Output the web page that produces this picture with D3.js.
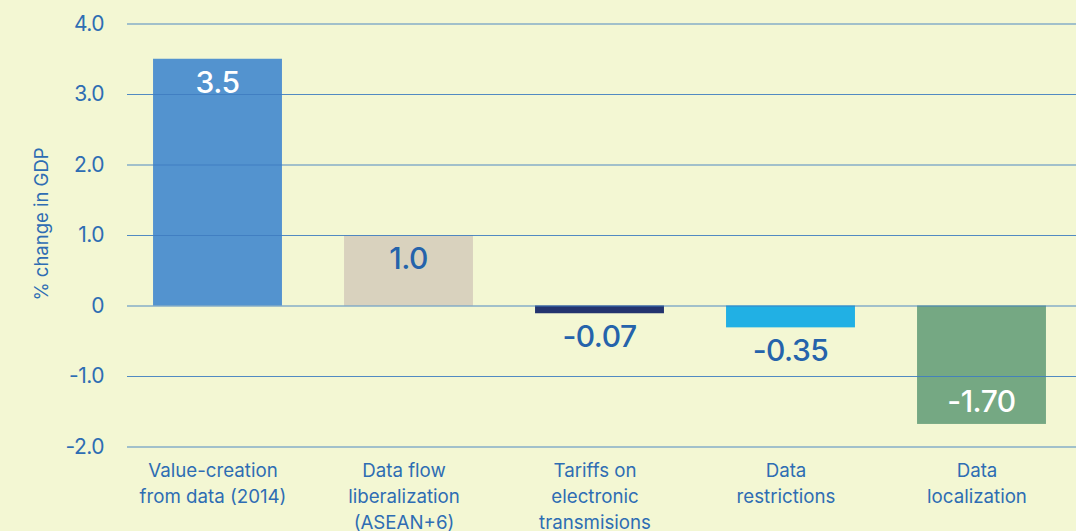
<!DOCTYPE html>
<html>
<head>
<meta charset="utf-8">
<script src="https://cdn.jsdelivr.net/npm/d3@7"></script>
<style>
  html, body { margin: 0; padding: 0; background: #F3F7D3; }
  svg { display: block; font-family: Inter, "Noto Sans", sans-serif; }
</style>
</head>
<body>
<svg id="chart" width="1076" height="531"></svg>
<script>
const categories = [
  ["Value-creation", "from data (2014)"],
  ["Data flow", "liberalization", "(ASEAN+6)"],
  ["Tariffs on", "electronic", "transmisions"],
  ["Data", "restrictions"],
  ["Data", "localization"]
];
const values = [3.5, 1.0, -0.11, -0.31, -1.68];
const valueLabels = ["3.5", "1.0", "-0.07", "-0.35", "-1.70"];
const barColors = ["#5393CF", "#D9D2BE", "#23346E", "#21B0E4", "#75A883"];
const labelColors = ["#FFFFFF", "#2563AB", "#2563AB", "#2563AB", "#FFFFFF"];
const yTicks = [4, 3, 2, 1, 0, -1, -2];
const yTickLabels = ["4.0", "3.0", "2.0", "1.0", "0", "-1.0", "-2.0"];
const yTitle = "% change in GDP";

const svg = d3.select("#chart");
const textBlue = "#2E6DB3";
const gridColor = "#3F7DC0";

const y = d3.scaleLinear().domain([-2, 4]).range([446.5, 23.5]);
const x = d3.scaleBand().domain(d3.range(categories.length))
  .range([122, 1077]).paddingInner(0.325).paddingOuter(0.1625);

// bars
svg.append("g").selectAll("rect").data(values).join("rect")
  .attr("x", (d, i) => x(i))
  .attr("width", x.bandwidth())
  .attr("y", d => y(Math.max(0, d)))
  .attr("height", d => Math.abs(y(d) - y(0)))
  .attr("fill", (d, i) => barColors[i]);

// gridlines (drawn on top of bars)
const yAxis = d3.axisLeft(y).tickValues(yTicks)
  .tickFormat((d, i) => yTickLabels[i]).tickSize(-(1076 - 127)).tickPadding(23);
const gy = svg.append("g").attr("transform", "translate(127,0)").call(yAxis);
gy.select(".domain").remove();
gy.selectAll(".tick line").attr("stroke", gridColor).attr("stroke-width", 1).attr("opacity", 0.9);
gy.selectAll(".tick text").attr("fill", textBlue).attr("font-size", 21)
  .attr("font-family", "Inter, sans-serif").attr("letter-spacing", "-0.5");

// value labels
svg.append("g").selectAll("text").data(values).join("text")
  .attr("x", (d, i) => x(i) + x.bandwidth() / 2)
  .attr("y", d => {
    if (d >= 0) return y(d) + 34;
    if (d < -1) return y(d) - 12;
    return y(d) + 34;
  })
  .attr("text-anchor", "middle")
  .attr("font-size", 30)
  .attr("font-weight", 500)
  .attr("letter-spacing", "-0.5")
  .attr("fill", (d, i) => labelColors[i])
  .text((d, i) => valueLabels[i]);

// category labels
const cat = svg.append("g").selectAll("text").data(categories).join("text")
  .attr("text-anchor", "middle")
  .attr("fill", textBlue)
  .attr("font-size", 18.7);
cat.each(function(lines, i) {
  const t = d3.select(this);
  lines.forEach((ln, j) => {
    t.append("tspan").attr("x", x(i) + x.bandwidth() / 2 - 4.5)
      .attr("y", 477 + j * 26).text(ln);
  });
});

// y title
svg.append("text")
  .attr("transform", "translate(48,224) rotate(-90)")
  .attr("text-anchor", "middle")
  .attr("fill", textBlue)
  .attr("font-size", 18.5)
  .text(yTitle);
</script>
</body>
</html>
